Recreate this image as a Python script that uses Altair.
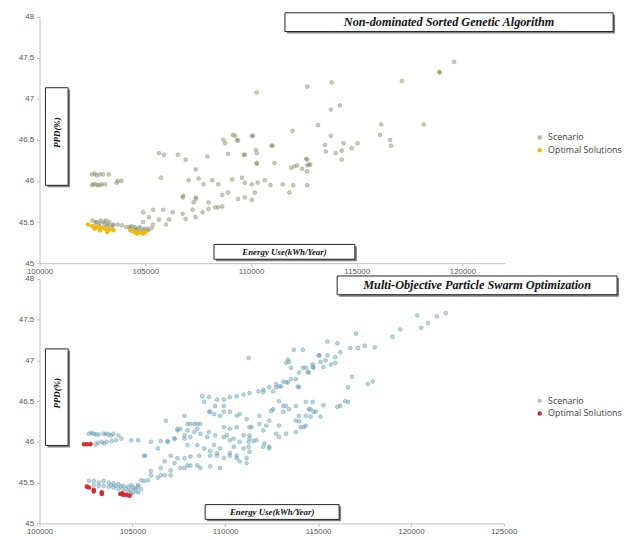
import altair as alt
import pandas as pd

# ---------------- data ----------------
series_names = ["Scenario", "Optimal Solutions"]
y_ticks = [45, 45.5, 46, 46.5, 47, 47.5, 48]
x_ticks_top = [100000, 105000, 110000, 115000, 120000]
x_ticks_bottom = [100000, 105000, 110000, 115000, 120000, 125000]
titles = ["Non-dominated Sorted Genetic Algorithm", "Multi-Objective Particle Swarm Optimization"]
x_title = "Energy Use(kWh/Year)"
y_title = "PPD(%)"

nsga_scenario = [
    (102475, 46.08), (102850, 46.08), (103270, 46.08), (102475, 45.95), (102650, 45.96), (102850, 45.95),
    (103100, 45.96), (103640, 45.98), (103880, 46.0), (102600, 46.09), (102700, 46.07), (102550, 45.96),
    (102750, 45.95), (102950, 45.96), (103000, 46.08), (103700, 46.0),
    (102500, 45.52), (102700, 45.5), (102900, 45.52), (103100, 45.48), (103300, 45.5), (103500, 45.47),
    (103700, 45.47), (103900, 45.46), (104100, 45.44), (104300, 45.42), (104500, 45.44), (104700, 45.42),
    (104900, 45.4), (105100, 45.42), (105300, 45.43), (102600, 45.45), (102800, 45.46), (103000, 45.44),
    (103200, 45.45), (103400, 45.43), (104400, 45.39), (104600, 45.4), (104800, 45.38),
    (102650, 45.5), (102850, 45.49), (103050, 45.5), (103250, 45.47), (103450, 45.46), (103150, 45.52),
    (104350, 45.45), (104550, 45.42), (104750, 45.44), (104950, 45.42), (105150, 45.4), (104250, 45.44),
    (105650, 46.34), (105880, 46.32), (106540, 46.32), (106910, 46.26), (107940, 46.3), (108780, 46.46),
    (109250, 46.55), (109390, 46.49), (110040, 46.55), (108920, 46.33), (109710, 46.32), (110270, 46.34),
    (110270, 46.22), (110970, 46.43),
    (105740, 46.04), (107380, 46.14), (107050, 46.01), (107520, 46.03), (107750, 45.96), (108170, 46.01),
    (108450, 45.96), (109110, 46.02), (109570, 46.04), (109710, 45.98), (110040, 45.96), (110320, 45.98),
    (110650, 46.01),
    (106770, 45.8), (106800, 45.82), (107380, 45.78), (107400, 45.8), (107290, 45.74), (108640, 45.83),
    (108920, 45.86), (109390, 45.78), (109710, 45.8), (110040, 45.77), (110180, 45.86), (107990, 45.74),
    (108310, 45.68), (108640, 45.69),
    (105840, 45.65), (106300, 45.62), (106770, 45.6), (107240, 45.65), (107710, 45.62), (108450, 45.68),
    (107990, 45.66), (104900, 45.62), (105370, 45.65), (105180, 45.56), (105650, 45.53), (106120, 45.53),
    (106910, 45.54), (107380, 45.56), (104900, 45.5), (105370, 45.47), (105980, 45.47),
    (110920, 45.95), (111500, 45.96), (112000, 45.95), (112660, 45.95), (111820, 45.86), (111910, 46.16),
    (112190, 46.19), (112420, 46.15), (112660, 46.19), (112660, 46.26), (112800, 46.2), (112660, 46.12),
    (110270, 47.08), (112660, 47.15), (113820, 47.2), (117140, 47.22), (118910, 47.33), (118930, 47.32),
    (119610, 47.45), (113780, 46.87), (114200, 46.92), (113170, 46.68), (111960, 46.61), (116160, 46.69),
    (118170, 46.69), (113780, 46.55), (114380, 46.46), (111020, 46.43), (113500, 46.44), (115040, 46.46),
    (116110, 46.56), (116580, 46.5), (116630, 46.43), (114760, 46.4), (114290, 46.37), (114010, 46.34),
    (113540, 46.36), (112610, 46.27), (112750, 46.2), (114290, 46.26), (112050, 46.18), (111110, 46.22),
    (110270, 46.21), (110090, 46.55), (108690, 46.5), (109150, 46.56), (109340, 46.5), (109670, 46.32),
    (110230, 46.38),
]

nsga_optimal = [
    (102300, 45.47), (102500, 45.45), (102700, 45.44), (102900, 45.43), (103100, 45.42), (103300, 45.41),
    (103500, 45.4), (102600, 45.42), (102850, 45.4), (103200, 45.38), (104300, 45.4), (104500, 45.38),
    (104700, 45.37), (104900, 45.36), (105000, 45.38), (104600, 45.36),
]

mopso_scenario = [
    (102660, 46.1), (102920, 46.1), (103190, 46.09), (103450, 46.1), (103720, 46.09), (103980, 46.1),
    (104250, 46.08), (104410, 46.04), (104940, 46.02), (105310, 46.02), (102760, 45.98), (103020, 45.97),
    (103350, 46.0), (103610, 46.0), (103880, 46.01), (104110, 46.02), (102800, 46.11), (103050, 46.09),
    (103580, 46.1), (103850, 46.08), (103150, 45.99), (103480, 45.98),
    (102660, 45.52), (102920, 45.52), (103190, 45.5), (103450, 45.52), (103720, 45.5), (103980, 45.49),
    (104250, 45.48), (104510, 45.46), (104780, 45.45), (105040, 45.44), (105310, 45.45), (103450, 45.46),
    (103720, 45.45), (103980, 45.44), (104250, 45.42), (104510, 45.4), (104780, 45.39), (105040, 45.38),
    (105200, 45.4), (105470, 45.42), (102920, 45.47), (103190, 45.46), (104940, 45.36), (105310, 45.38),
    (104380, 45.45), (104650, 45.43), (104900, 45.41), (105150, 45.43), (103850, 45.47), (104100, 45.46),
    (105630, 45.83), (106370, 45.92), (106900, 46.0), (107270, 46.04), (107810, 46.08), (108340, 46.12),
    (107430, 46.16), (107970, 46.14), (108500, 46.16), (108120, 46.22), (108500, 46.22), (106800, 46.26),
    (109130, 46.37), (109720, 46.32), (109930, 46.37), (108760, 46.56), (109130, 46.55), (109560, 46.52),
    (109930, 46.52), (110250, 46.55), (110620, 46.56), (110990, 46.58), (111310, 46.6), (111790, 46.62),
    (112050, 46.61), (112580, 46.62), (112900, 46.68), (113280, 46.73), (109450, 46.44), (108870, 46.49),
    (109930, 46.44), (109190, 46.37), (109400, 46.34), (110780, 46.34), (112480, 46.38), (107810, 46.32),
    (107970, 46.22), (108340, 46.22), (108660, 46.22), (109930, 46.18), (110250, 46.16), (110620, 46.18),
    (111310, 46.18), (112050, 46.14), (107430, 46.14), (107590, 46.16), (108660, 46.1), (109030, 46.06),
    (109450, 46.08), (109930, 46.06), (110250, 46.02), (110990, 46.08), (111310, 46.04), (111680, 46.02),
    (106000, 46.0), (106530, 46.01), (106900, 46.01), (107270, 46.04), (107810, 46.04), (108120, 46.06),
    (107970, 45.96), (108500, 45.96), (108870, 45.92), (109400, 45.96), (109720, 45.92), (110460, 45.94),
    (110990, 45.92), (111310, 45.88), (112050, 45.94), (112370, 45.92), (105680, 45.83), (107060, 45.83),
    (107430, 45.8), (107810, 45.8), (108120, 45.82), (108600, 45.83), (109190, 45.83), (109560, 45.83),
    (109930, 45.8), (110250, 45.83), (110620, 45.83), (110780, 45.76), (111150, 45.74), (106740, 45.76),
    (107270, 45.74), (107970, 45.71), (108500, 45.71), (106530, 45.68), (107060, 45.65), (107590, 45.68),
    (109190, 45.7), (109720, 45.68), (106000, 45.59), (106530, 45.59), (107060, 45.59), (105470, 45.53),
    (105840, 45.53), (106370, 45.56), (104940, 45.47), (105310, 45.47), (106000, 45.64), (106740, 45.59),
    (105630, 45.52),
    (109130, 46.12), (110090, 46.08), (110460, 46.04), (110780, 46.0), (111520, 46.01), (112370, 45.94),
    (109190, 45.89), (109560, 45.86), (110250, 45.86), (110620, 45.8), (108120, 45.71), (108660, 45.68),
    (107810, 45.68), (113380, 47.01), (113540, 46.91), (113810, 46.77), (113970, 46.67), (113700, 47.13),
    (114180, 47.13), (111260, 47.03), (114180, 46.91), (114710, 46.92), (110250, 46.37), (110620, 46.32),
    (111150, 46.28), (111840, 46.32), (112370, 46.26), (112900, 46.2), (113810, 46.26), (114340, 46.32),
    (114600, 46.4), (113120, 46.44), (113440, 46.4), (112740, 46.67), (113010, 46.68),
    (120340, 47.55), (120920, 47.46), (120550, 47.4), (121400, 47.54), (121880, 47.58), (119430, 47.38),
    (119010, 47.29), (117050, 47.33), (115510, 47.23), (116040, 47.21), (116730, 47.15), (117150, 47.15),
    (117520, 47.18), (118050, 47.16), (116200, 47.1), (115030, 47.06), (115510, 47.06), (115130, 46.98),
    (114710, 46.95), (115290, 46.92), (115930, 46.97), (114340, 46.91), (114500, 46.85), (116830, 46.8),
    (116620, 46.67), (117680, 46.71), (117950, 46.74), (116460, 46.5), (116620, 46.49), (116040, 46.43),
    (115290, 46.45), (114710, 46.49), (114340, 46.49), (114500, 46.4), (114760, 46.37), (115130, 46.31),
    (114600, 46.31), (114340, 46.2),
    (113970, 46.85), (114440, 46.86), (114760, 46.91), (113440, 46.98), (113280, 46.97), (113540, 46.77),
    (113380, 46.73), (113120, 46.74), (112740, 46.71), (112370, 46.67), (112050, 46.64), (113910, 46.68),
    (116200, 46.44), (114870, 46.37), (113810, 46.44), (113280, 46.44), (112900, 46.5), (112580, 46.4),
    (113120, 46.37), (113970, 46.32), (113970, 46.25), (114230, 46.18), (114070, 46.18), (113810, 46.12),
    (113280, 46.1), (112900, 46.06), (112740, 46.1), (112210, 46.2), (111840, 46.22), (111420, 46.18),
    (111310, 46.08), (112110, 45.98), (111260, 46.0), (111260, 45.94), (111150, 45.8), (115080, 47.06),
    (115400, 47.0), (115930, 47.04), (115700, 46.95),
]

mopso_optimal = [
    (102390, 45.97), (102550, 45.97), (102730, 45.97), (102550, 45.45), (102660, 45.44), (102920, 45.39),
    (102920, 45.41), (103350, 45.38), (103350, 45.36), (104350, 45.36), (104510, 45.35), (104680, 45.35),
    (104850, 45.34), (104450, 45.37),
]


def frame(points, name):
    return pd.DataFrame({"energy": [p[0] for p in points], "ppd": [p[1] for p in points], "series": name})


def box(x1, x2, y1, y2, label, cx, cy, angle=0, size=11):
    d = pd.DataFrame({"label": [label]})
    base = alt.Chart(d)
    shadow = base.mark_rect(fill="#808080").encode(
        x=alt.value(x1 + 2), x2=alt.value(x2 + 2), y=alt.value(y1 + 2), y2=alt.value(y2 + 2))
    rect = base.mark_rect(fill="white", stroke="#222222", strokeWidth=1).encode(
        x=alt.value(x1), x2=alt.value(x2), y=alt.value(y1), y2=alt.value(y2))
    txt = base.mark_text(font="Liberation Serif", fontStyle="italic", fontWeight="bold", fontSize=size,
                         color="#111111", angle=angle, align="center", baseline="middle").encode(
        x=alt.value(cx), y=alt.value(cy), text="label:N")
    return [shadow, rect, txt]


def panel(scen, opt, xmax, xticks, width, height, scen_fill, scen_stroke, fill_op, legend_scen, opt_color,
          title, tsize, tbox, ybox, xbox, leg_xy):
    xs = alt.Scale(domain=[100000, xmax], nice=False, zero=False)
    ys = alt.Scale(domain=[45, 48], nice=False, zero=False)
    xax = alt.Axis(values=xticks, format="d", title=None, grid=False, tickSize=3, labelPadding=1,
                   labelFlush=False, labelOverlap=False)
    yax = alt.Axis(values=y_ticks, format="~g", title=None, grid=False, tickSize=3, labelPadding=3,
                   labelFlush=False, labelOverlap=False)
    color = alt.Color("series:N", scale=alt.Scale(domain=series_names, range=[legend_scen, opt_color]),
                      legend=alt.Legend(title=None, orient="none", legendX=leg_xy[0], legendY=leg_xy[1],
                                        symbolType="circle", symbolSize=20, labelFontSize=9,
                                        labelFont="Open Sans", labelColor="#404040", rowPadding=3,
                                        symbolOpacity=1, symbolStrokeWidth=0))
    s = alt.Chart(frame(scen, series_names[0])).mark_point(
        filled=True, shape="circle", size=15, fillOpacity=fill_op, stroke=scen_stroke, strokeWidth=0.8,
        strokeOpacity=0.75).encode(
        x=alt.X("energy:Q", scale=xs, axis=xax), y=alt.Y("ppd:Q", scale=ys, axis=yax),
        color=alt.value(scen_fill))
    o = alt.Chart(frame(opt, series_names[1])).mark_point(
        filled=True, shape="circle", size=22, opacity=0.95).encode(
        x=alt.X("energy:Q", scale=xs, axis=xax), y=alt.Y("ppd:Q", scale=ys, axis=yax), color=color)
    layers = [s, o]
    layers += box(*tbox, title, (tbox[0] + tbox[1]) / 2, (tbox[2] + tbox[3]) / 2, 0, tsize)
    layers += box(*ybox, y_title, (ybox[0] + ybox[1]) / 2, (ybox[2] + ybox[3]) / 2 - 4, 270, 9)
    layers += box(*xbox, x_title, (xbox[0] + xbox[1]) / 2, (xbox[2] + xbox[3]) / 2, 0, 9)
    return alt.layer(*layers).properties(width=width, height=height)


top = panel(nsga_scenario, nsga_optimal, 122000, x_ticks_top, 472, 250,
            "#445a1e", "#a3a690", 0.3, "#b5b8a8", "#f2b705", titles[0], 12.4,
            (249, 582, -4, 15), (6, 29, 72, 171), (177, 320, 231, 246), (503, 118))
bottom = panel(mopso_scenario, mopso_optimal, 125000, x_ticks_bottom, 471, 248,
               "#236f88", "#7fb1c3", 0.3, "#b8c4c8", "#d7262b", titles[1], 12.4,
               (302, 586, -3, 16), (6, 29, 71, 169), (168, 304, 229, 244), (503, 119))

chart = alt.vconcat(top, bottom, spacing=0).resolve_scale(color="independent", x="independent").properties(
    padding={"left": 10, "top": 0, "right": 0, "bottom": 0}
).configure_view(stroke=None).configure_axis(
    domainColor="#bfbfbf", tickColor="#bfbfbf", labelColor="#595959", labelFont="Liberation Sans",
    labelFontSize=8
)

chart.save("out.html", embed_options={"renderer": "svg", "actions": False})
